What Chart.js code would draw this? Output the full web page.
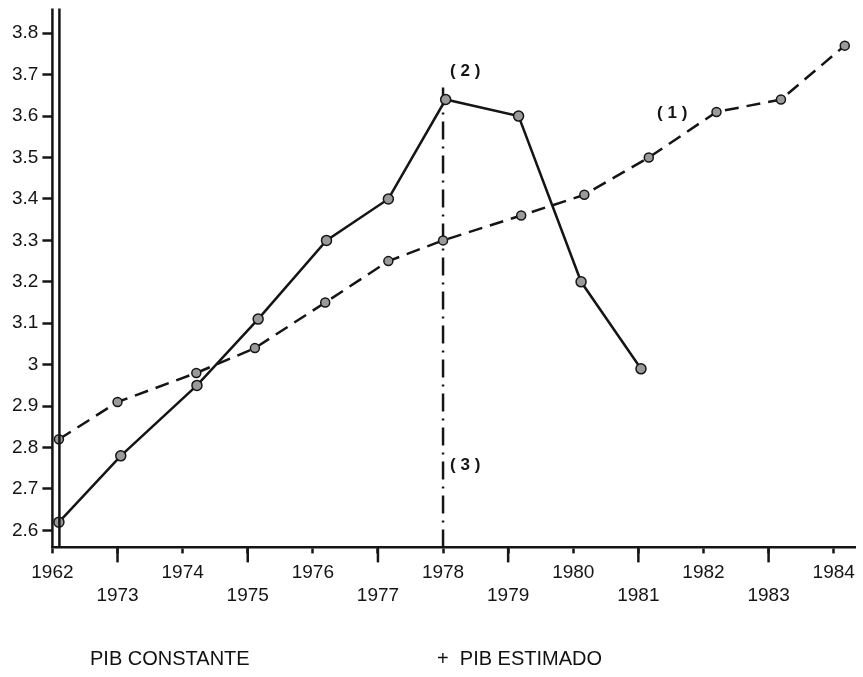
<!DOCTYPE html>
<html>
<head>
<meta charset="utf-8">
<script src="https://cdn.jsdelivr.net/npm/chart.js@4.4.1/dist/chart.umd.min.js"></script>
<style>
    body { margin: 0; background: #fff; }
    #wrap { position: relative; width: 863px; height: 677px; }
    .leyenda { position: absolute; top: 647px; font: 20px "Liberation Sans", Arial, sans-serif; color: #111; white-space: pre; }
</style>
</head>
<body>
<div id="wrap">
    <canvas id="Chart1" width="863" height="677"></canvas>
    <div class="leyenda" style="left:90px">PIB CONSTANTE</div>
    <div class="leyenda" style="left:437px">+  PIB ESTIMADO</div>
</div>
<script>
// años del eje x (1962 va pegado al eje)
var yearLabels = ['1962', '1973', '1974', '1975', '1976', '1977', '1978', '1979', '1980', '1981', '1982', '1983', '1984'];
var yTicks = [2.6, 2.7, 2.8, 2.9, 3, 3.1, 3.2, 3.3, 3.4, 3.5, 3.6, 3.7, 3.8];

// PIB constante (línea continua), x = posición en el eje de años
var constanteX = [0.1, 1.05, 2.22, 3.16, 4.21, 5.16, 6.04, 7.16, 8.12, 9.04];
var constanteY = [2.62, 2.78, 2.95, 3.11, 3.30, 3.40, 3.64, 3.60, 3.20, 2.99];

// PIB estimado (1) (línea discontinua)
var estimadoX = [0.1, 1.0, 2.21, 3.11, 4.19, 5.16, 6.0, 7.2, 8.17, 9.16, 10.2, 11.19, 12.17];
var estimadoY = [2.82, 2.91, 2.98, 3.04, 3.15, 3.25, 3.30, 3.36, 3.41, 3.50, 3.61, 3.64, 3.77];

// línea vertical 1978
var corteX = [6, 6];
var corteY = [2.559, 3.68];

// notas (1) (2) (3)
var notaText = ['( 2 )', '( 3 )', '( 1 )'];
var notaX = [6.34, 6.34, 9.52];
var notaY = [3.708, 2.757, 3.607];

function pares(xs, ys) {
    return xs.map(function (x, i) { return { x: x, y: ys[i] }; });
}

Chart.defaults.font.family = '"Liberation Sans", Arial, sans-serif';
Chart.defaults.font.size = 19;
Chart.defaults.color = '#111';

var ink = '#151515';

var extras = {
    id: 'extras',
    afterDraw: function (chart) {
        var c = chart.ctx, a = chart.chartArea;
        var xs = chart.scales.x, ys = chart.scales.y;
        c.save();
        c.strokeStyle = ink;
        c.lineWidth = 2.5;
        // doble eje y, sube un poco por encima del área
        [0, 7].forEach(function (dx) {
            c.beginPath();
            c.moveTo(a.left + dx, a.top - 7);
            c.lineTo(a.left + dx, a.bottom);
            c.stroke();
        });
        // marcas largas de los años impares
        for (var i = 1; i < yearLabels.length; i += 2) {
            var px = xs.getPixelForValue(i);
            c.beginPath();
            c.moveTo(px, a.bottom);
            c.lineTo(px, a.bottom + 15);
            c.stroke();
        }
        // notas
        c.fillStyle = ink;
        c.font = 'bold 17px "Liberation Sans", Arial, sans-serif';
        c.textAlign = 'center';
        c.textBaseline = 'middle';
        notaText.forEach(function (t, i) {
            c.fillText(t, xs.getPixelForValue(notaX[i]), ys.getPixelForValue(notaY[i]));
        });
        c.restore();
    }
};

var ctx = document.getElementById('Chart1');
var chart = new Chart(ctx, {
    type: 'line',
    data: {
        datasets: [{
            label: 'PIB CONSTANTE',
            data: pares(constanteX, constanteY),
            borderColor: ink,
            borderWidth: 2.5,
            pointRadius: 5,
            pointBackgroundColor: '#9a9a9a',
            pointBorderColor: ink,
            pointBorderWidth: 1.5
        }, {
            label: 'PIB ESTIMADO',
            data: pares(estimadoX, estimadoY),
            borderColor: ink,
            borderWidth: 2.5,
            borderDash: [14, 8],
            pointRadius: 4.5,
            pointBackgroundColor: '#9a9a9a',
            pointBorderColor: ink,
            pointBorderWidth: 1.5
        }, {
            label: '1978',
            data: pares(corteX, corteY),
            borderColor: ink,
            borderWidth: 2.5,
            borderDash: [18, 7, 2, 7],
            pointRadius: 0
        }]
    },
    options: {
        responsive: false,
        animation: false,
        layout: { padding: { top: 0, left: 8, right: 2, bottom: 62 } },
        plugins: { legend: { display: false }, tooltip: { enabled: false } },
        scales: {
            x: {
                type: 'linear',
                min: 0,
                max: 12.33,
                afterBuildTicks: function (scale) {
                    scale.ticks = yearLabels.map(function (l, i) { return { value: i }; });
                },
                ticks: {
                    autoSkip: false,
                    maxRotation: 0,
                    padding: 8,
                    color: ink,
                    callback: function (v, idx) {
                        return idx % 2 ? ['', yearLabels[idx]] : yearLabels[idx];
                    }
                },
                grid: { drawOnChartArea: false, tickLength: 6, tickWidth: 2.5, tickColor: ink },
                border: { color: ink, width: 2.5 }
            },
            y: {
                min: 2.559,
                max: 3.843,
                afterBuildTicks: function (scale) {
                    scale.ticks = yTicks.map(function (v) { return { value: v }; });
                },
                ticks: {
                    padding: 4,
                    color: ink,
                    callback: function (v) {
                        return Number(v) === 3 ? '3' : Number(v).toFixed(1);
                    }
                },
                grid: { drawOnChartArea: false, tickLength: 10, tickWidth: 2.5, tickColor: ink },
                border: { display: false }
            }
        }
    },
    plugins: [extras]
});
</script>
</body>
</html>
